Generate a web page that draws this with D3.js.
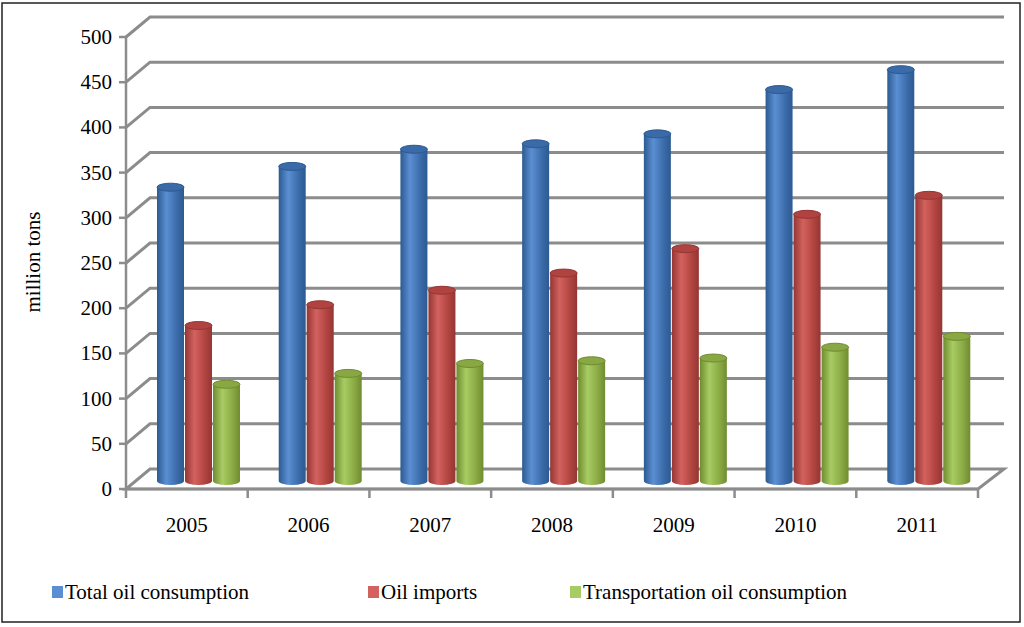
<!DOCTYPE html>
<html><head><meta charset="utf-8">
<script src="https://cdn.jsdelivr.net/npm/d3@7"></script>
<style>body{margin:0;background:#fff}text{font-family:"Liberation Serif","DejaVu Serif",serif}</style>
</head><body><svg id="c" width="1024" height="627"></svg>
<script>
const years = ['2005','2006','2007','2008','2009','2010','2011'];
const seriesNames = ['Total oil consumption','Oil imports','Transportation oil consumption'];
const totalOil = [325, 348, 367, 373, 384, 433, 455];
const oilImports = [172, 195, 211, 230, 257, 295, 316];
const transportOil = [107, 119, 130, 133, 136, 148, 160];
const yTicks = [0,50,100,150,200,250,300,350,400,450,500];

const series = [totalOil, oilImports, transportOil];
const colors = [['#2c5a91','#5b8fd3','#3a6aa8'],['#943634','#d3625f','#b0433f'],['#6f8c30','#a8cc63','#89a843']];

const svg = d3.select('#c');
svg.append('rect').attr('x',2).attr('y',3).attr('width',1018).attr('height',619)
  .attr('fill','#fff').attr('stroke','#222').attr('stroke-width',1.5);

const defs = svg.append('defs');
colors.forEach((c,i)=>{
  const g = defs.append('linearGradient').attr('id','g'+i);
  g.append('stop').attr('offset','0%').attr('stop-color',c[0]);
  g.append('stop').attr('offset','35%').attr('stop-color',c[1]);
  g.append('stop').attr('offset','75%').attr('stop-color',c[2]);
  g.append('stop').attr('offset','100%').attr('stop-color',c[0]);
});

const x0 = 126, x1 = 978, dx = 24, dy = -20;
const yFront = d3.scaleLinear().domain([0,500]).range([489,37]);
const x = d3.scaleBand().domain(years).range([x0,x1]);
const inner = d3.scaleBand().domain([0,1,2]).range([0, 84]);
const yBar = v => yFront(v) - 8;

// back wall gridlines with depth step
const grid = svg.append('g').attr('stroke','#8c8c8c').attr('fill','none');
yTicks.forEach(t=>{
  const yf = yFront(t);
  if (t===0) return;
  grid.append('path').attr('stroke-width',3)
    .attr('d',`M${x0},${yf}L${x0+dx},${yf+dy}L${x1+dx+2},${yf+dy}`);
});
// floor
grid.append('path').attr('stroke-width',3)
  .attr('d',`M${x0},${yFront(0)}L${x0+dx},${yFront(0)+dy}L${x1+dx+2},${yFront(0)+dy}L${x1},${yFront(0)}Z`);

// bars (cylinders)
series.forEach((vals,si)=>{
  const g = svg.append('g');
  vals.forEach((v,i)=>{
    const w = inner.bandwidth()-1;
    const bx = x(years[i]) + 31 + inner(si);
    const top = yBar(v), bot = yBar(0);
    const rx = w/2, ry = 4;
    g.append('path').attr('fill',`url(#g${si})`)
      .attr('d',`M${bx},${top}L${bx},${bot}A${rx},${ry} 0 0 0 ${bx+w},${bot}L${bx+w},${top}Z`);
    g.append('ellipse').attr('cx',bx+rx).attr('cy',top).attr('rx',rx).attr('ry',ry)
      .attr('fill',colors[si][2]).attr('stroke',colors[si][0]).attr('stroke-width',1);
  });
});

// front axes
const ax = svg.append('g').attr('stroke','#8c8c8c').attr('stroke-width',2.5).attr('fill','none');
ax.append('line').attr('x1',x0).attr('x2',x0).attr('y1',yFront(500)).attr('y2',yFront(0));
ax.append('line').attr('x1',x0).attr('x2',x1).attr('y1',yFront(0)).attr('y2',yFront(0));
yTicks.forEach(t=>ax.append('line').attr('x1',x0-7).attr('x2',x0).attr('y1',yFront(t)).attr('y2',yFront(t)));
years.concat(['end']).forEach((d,i)=>{
  const xx = x0 + i*x.step();
  ax.append('line').attr('x1',xx).attr('x2',xx).attr('y1',yFront(0)).attr('y2',yFront(0)+9);
});

svg.append('g').selectAll('text').data(yTicks).join('text')
  .attr('x',112).attr('y',d=>yFront(d)+7).attr('text-anchor','end')
  .attr('font-size',21).text(d=>d);
svg.append('g').selectAll('text').data(years).join('text')
  .attr('x',d=>x(d)+x.bandwidth()/2).attr('y',532).attr('text-anchor','middle')
  .attr('font-size',21).text(d=>d);
svg.append('text').attr('transform','translate(40,262) rotate(-90)')
  .attr('text-anchor','middle').attr('font-size',21).text('million tons');

// legend
const lx = [52, 368, 570];
const leg = svg.append('g');
seriesNames.forEach((n,i)=>{
  leg.append('rect').attr('x',lx[i]).attr('y',586).attr('width',11).attr('height',12).attr('fill',colors[i][1]);
  leg.append('text').attr('x',lx[i]+13).attr('y',599).attr('font-size',21).text(n);
});
</script></body></html>
